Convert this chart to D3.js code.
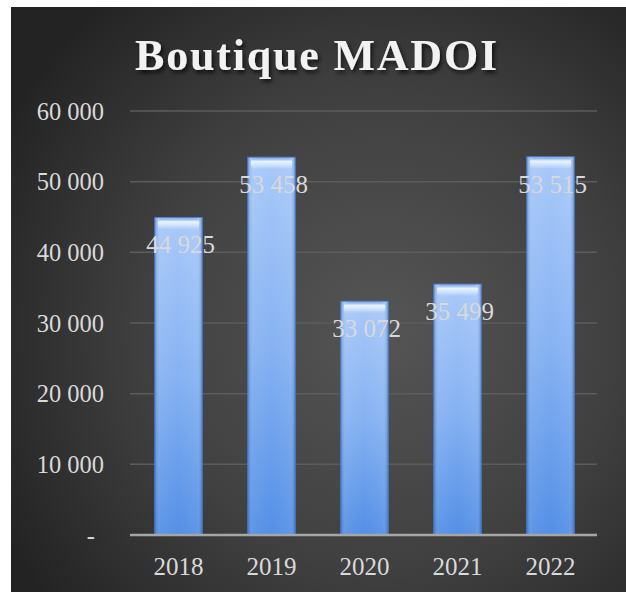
<!DOCTYPE html>
<html><head><meta charset="utf-8">
<script src="https://cdn.jsdelivr.net/npm/d3@7"></script>
<style>html,body{margin:0;padding:0;background:#fff;}svg{display:block;}</style>
</head><body>
<script>
const categories = ["2018","2019","2020","2021","2022"];
const values = [44925, 53458, 33072, 35499, 53515];
const yTicks = [0, 10000, 20000, 30000, 40000, 50000, 60000];
const title = "Boutique MADOI";

const W = 626, H = 592;
const svg = d3.select("body").append("svg").attr("width", W).attr("height", H);
const defs = svg.append("defs");

const bg = defs.append("radialGradient").attr("id","bg")
  .attr("gradientUnits","userSpaceOnUse").attr("cx",380).attr("cy",330).attr("r",430);
bg.append("stop").attr("offset","0%").attr("stop-color","#555555");
bg.append("stop").attr("offset","55%").attr("stop-color","#404040");
bg.append("stop").attr("offset","100%").attr("stop-color","#232323");

const bar = defs.append("linearGradient").attr("id","bar").attr("x1",0).attr("y1",0).attr("x2",0).attr("y2",1);
bar.append("stop").attr("offset","0%").attr("stop-color","#a9c9f9");
bar.append("stop").attr("offset","50%").attr("stop-color","#86b2f2");
bar.append("stop").attr("offset","100%").attr("stop-color","#538fe6");

const barH = defs.append("linearGradient").attr("id","barH").attr("x1",0).attr("y1",0).attr("x2",1).attr("y2",0);
barH.append("stop").attr("offset","0%").attr("stop-color","#1f4f9a").attr("stop-opacity",0.35);
barH.append("stop").attr("offset","12%").attr("stop-color","#ffffff").attr("stop-opacity",0.06);
barH.append("stop").attr("offset","50%").attr("stop-color","#ffffff").attr("stop-opacity",0.0);
barH.append("stop").attr("offset","88%").attr("stop-color","#ffffff").attr("stop-opacity",0.06);
barH.append("stop").attr("offset","100%").attr("stop-color","#1f4f9a").attr("stop-opacity",0.35);

const glow = defs.append("linearGradient").attr("id","glow").attr("x1",0).attr("y1",0).attr("x2",0).attr("y2",1);
glow.append("stop").attr("offset","0%").attr("stop-color","#7aa6e6").attr("stop-opacity",1);
glow.append("stop").attr("offset","30%").attr("stop-color","#eef8ff").attr("stop-opacity",0.9);
glow.append("stop").attr("offset","100%").attr("stop-color","#ffffff").attr("stop-opacity",0);

const sh = defs.append("filter").attr("id","shadow").attr("x","-10%").attr("y","-20%").attr("width","120%").attr("height","150%");
sh.append("feDropShadow").attr("dx",2).attr("dy",3).attr("stdDeviation",2).attr("flood-color","#000").attr("flood-opacity",0.7);

svg.append("rect").attr("x",11).attr("y",7).attr("width",W-11).attr("height",H-7).attr("fill","url(#bg)");

const x = d3.scaleBand().domain(categories).range([132, 597]).paddingInner(0.49).paddingOuter(0.245);
const y = d3.scaleLinear().domain([0, 60000]).range([535, 111]);

// gridlines
svg.append("g").selectAll("line").data(yTicks.filter(d=>d>0)).join("line")
  .attr("x1",130).attr("x2",597).attr("y1",d=>y(d)).attr("y2",d=>y(d))
  .attr("stroke","#5c5c5c").attr("stroke-width",1.5);

// y axis labels
const fmt = d => d === 0 ? "-" : d3.format(",")(d).replace(/,/g, " ");
svg.append("g").selectAll("text").data(yTicks).join("text")
  .attr("x", d => d===0 ? 95 : 104).attr("y", d=>y(d)).attr("dy","0.35em")
  .attr("text-anchor","end")
  .attr("font-family","'Liberation Serif', serif").attr("font-size",24.5)
  .attr("fill","#d9d9d9").text(fmt);

// bars
const g = svg.append("g").selectAll("g").data(categories).join("g");
g.append("rect").attr("x",d=>x(d)).attr("width",x.bandwidth())
  .attr("y",(d,i)=>y(values[i])).attr("height",(d,i)=>y(0)-y(values[i]))
  .attr("fill","url(#bar)").attr("stroke","#4a7fcf").attr("stroke-width",1);
g.append("rect").attr("x",d=>x(d)).attr("width",x.bandwidth())
  .attr("y",(d,i)=>y(values[i])).attr("height",(d,i)=>y(0)-y(values[i]))
  .attr("fill","url(#barH)");
g.append("rect").attr("x",d=>x(d)+3).attr("width",x.bandwidth()-6)
  .attr("y",(d,i)=>y(values[i])+1).attr("height",11).attr("rx",4)
  .attr("fill","url(#glow)");

// axis line
svg.append("line").attr("x1",130).attr("x2",597).attr("y1",y(0)).attr("y2",y(0))
  .attr("stroke","#a6a6a6").attr("stroke-width",2.5);

// value labels
svg.append("g").selectAll("text").data(categories).join("text")
  .attr("x",d=>x(d)+x.bandwidth()/2+2).attr("y",(d,i)=>y(values[i])+27).attr("dy","0.35em")
  .attr("text-anchor","middle")
  .attr("font-family","'Liberation Serif', serif").attr("font-size",25)
  .attr("fill","#d9d9d9").text((d,i)=>fmt(values[i]));

// x labels
svg.append("g").selectAll("text").data(categories).join("text")
  .attr("x",d=>x(d)+x.bandwidth()/2).attr("y",566).attr("dy","0.35em")
  .attr("text-anchor","middle")
  .attr("font-family","'Liberation Serif', serif").attr("font-size",25)
  .attr("fill","#d9d9d9").text(d=>d);

// title
svg.append("text").attr("x",317).attr("y",55).attr("dy","0.35em")
  .attr("text-anchor","middle")
  .attr("font-family","'Liberation Serif', serif").attr("font-weight","bold")
  .attr("font-size",44).attr("letter-spacing",1.8)
  .attr("fill","#f2f2f2").attr("filter","url(#shadow)").text(title);
</script>
</body></html>
